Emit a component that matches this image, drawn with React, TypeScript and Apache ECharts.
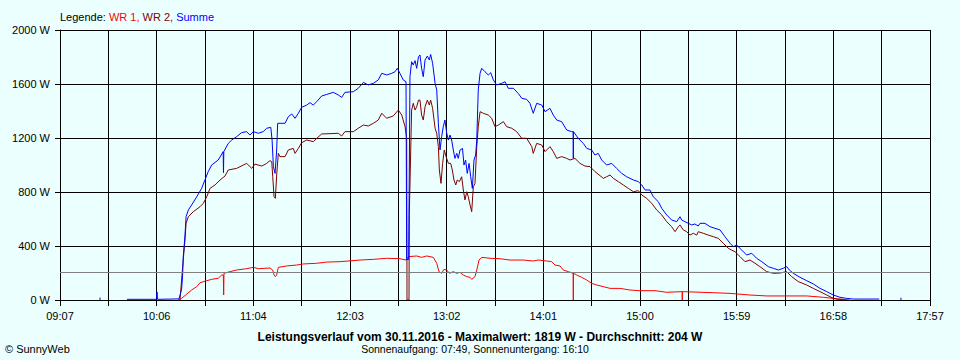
import React, { useEffect, useRef } from "react";
import * as echarts from "echarts";

// Time axis: minutes since midnight
const axisStart = 547; // 09:07
const axisEnd = 1077; // 17:57
const tickLabels = ["09:07", "10:06", "11:04", "12:03", "13:02", "14:01", "15:00", "15:59", "16:58", "17:57"];
const powerTicks = [0, 400, 800, 1200, 1600, 2000];
const averagePower = 204;

const titleText = "Leistungsverlauf vom 30.11.2016 - Maximalwert: 1819 W - Durchschnitt: 204 W";
const subtitleText = "Sonnenaufgang: 07:49, Sonnenuntergang: 16:10";

// [minute of day, W]
const wr1: (number | null)[][] = [
  [618.9, 0], [621.1, 12], [624.2, 44], [627.2, 74], [630.3, 99], [632.3, 128], [636.4, 143], [639.4, 153],
  [643.4, 161], [645.5, 185], [646.5, 185], [646.7, 37], [646.9, 198], [650.6, 210], [654.6, 222], [660.7, 232],
  [664.8, 242], [667.8, 232], [674.9, 237], [676.6, 222], [677.4, 185], [678.2, 173], [679, 185], [680, 242],
  [685.1, 252], [691.2, 259], [695.2, 267], [703.4, 272], [709.5, 281], [717.6, 284], [729.8, 296], [737.9, 301],
  [746, 309], [754.1, 306], [757.8, 296], [759.2, 321], [764.3, 326], [767.3, 316], [770.4, 326], [774.4, 316],
  [776.5, 272], [777.9, 210], [779.5, 198], [780.9, 227], [782.6, 222], [784.2, 198], [786.6, 210], [788.7, 198],
  [790.7, 205], [792.7, 185], [794.8, 173], [796.8, 168], [797.8, 153], [799.8, 173], [800.9, 222], [802.3, 296],
  [803.9, 316], [809, 309], [815, 306], [821.1, 296], [829.2, 296], [835.3, 289], [838.4, 296], [843.5, 289],
  [846.5, 284], [848.6, 259], [851.6, 252], [853.6, 222], [856.7, 210], [859.6, 198], [859.7, 0], [859.8, 198],
  [861.8, 185], [864.8, 168], [867.9, 148], [870.9, 123], [874, 111], [878, 99], [882.1, 86], [888.2, 86],
  [894.2, 74], [900.3, 69], [909.5, 69], [916.6, 57], [926, 62], [926.1, 0], [926.2, 62], [945, 54],
  [955.2, 49], [967.3, 37], [977.5, 30], [1001.9, 30], [1012, 20], [1018.1, 12], [1024.2, 5], [1028.3, 0],
];

const wr2: (number | null)[][] = [
  [620.1, 0], [622.1, 300], [623.1, 440], [623.8, 568], [625.2, 617], [628.2, 654], [632.3, 691], [634.3, 716],
  [636.4, 765], [638.4, 827], [641.4, 852], [644.5, 889], [647.5, 918], [649.5, 963], [654.6, 975], [660.7, 1012],
  [663.8, 975], [665.8, 1007], [669.9, 992], [672.9, 1012], [674.9, 1032], [676, 1025], [676.6, 913], [677.4, 765],
  [678.2, 753], [679, 926], [680, 1086], [681, 1062], [684.1, 1062], [686.1, 1111], [689.1, 1123], [690.2, 1086],
  [692.2, 1123], [694.2, 1165], [697.3, 1185], [701.3, 1173], [703.4, 1197], [706.4, 1230], [711.5, 1232], [716.5, 1235],
  [718.6, 1215], [720.6, 1247], [725.7, 1247], [728.7, 1272], [731.8, 1296], [734.8, 1289], [737.9, 1309], [740.9, 1333],
  [743, 1383], [746, 1346], [750, 1363], [753.1, 1407], [755.2, 1370], [757.2, 1284], [758.2, 1200], [758.4, 0],
  [759.6, 0], [759.8, 642], [761.2, 1407], [762.2, 1457], [763.3, 1407], [764.3, 1432], [765.4, 1481], [766.3, 1481],
  [767.3, 1370], [768.3, 1333], [769.4, 1432], [770.8, 1481], [772, 1444], [772.8, 1481], [774, 1420], [775.5, 1272],
  [776.5, 1235], [777.5, 1136], [778.1, 963], [779.1, 864], [780.1, 1012], [781.1, 1111], [782.2, 1062], [783.6, 1012],
  [785, 1012], [786, 963], [787, 889], [788.1, 852], [789, 889], [790.3, 877], [791.7, 913], [792.7, 815],
  [793.7, 741], [794.8, 802], [795.7, 765], [796.8, 704], [797.8, 654], [798.8, 839], [799.8, 864], [800.9, 1136],
  [801.8, 1284], [802.9, 1395], [804.9, 1383], [807.9, 1370], [810, 1346], [812, 1284], [814, 1296], [817.1, 1321],
  [819.1, 1284], [822.2, 1272], [825.2, 1247], [828.3, 1198], [831.3, 1198], [834.4, 1136], [835.3, 1086], [837.4, 1160],
  [840.5, 1148], [842.5, 1099], [845.5, 1136], [847.5, 1099], [849.6, 1049], [852.6, 1062], [855.7, 1049], [857.7, 1037],
  [860.7, 1049], [863.8, 1012], [866.8, 992], [869.9, 988], [872.9, 951], [878, 901], [880, 913], [882.1, 926],
  [884.1, 901], [887.1, 877], [890.2, 852], [893.2, 827], [896.3, 802], [899.3, 810], [901.4, 778], [904.4, 753],
  [907.5, 716], [910.5, 667], [913.6, 630], [916.6, 580], [919.6, 543], [921.7, 506], [923.7, 543], [924.7, 556],
  [926.7, 519], [928.8, 506], [930.8, 481], [932.8, 494], [934.9, 481], [935.8, 506], [938.9, 494], [941.9, 481],
  [945, 469], [948, 457], [951.1, 420], [954.1, 383], [956.1, 370], [958.2, 358], [961.3, 321], [964.3, 284],
  [967.3, 296], [970.4, 272], [973.4, 247], [977.5, 210], [981.5, 198], [985.6, 200], [989.7, 210], [992.7, 173],
  [996.8, 136], [1001.9, 111], [1005.9, 86], [1010, 62], [1014.1, 37], [1018.1, 12], [1021.1, 5], [1025.2, 0],
];

const summe: (number | null)[][] = [
  [571.4, 0], [571.4, 18], [580, null], [587.8, 5], [605.8, 5], [606.1, 60], [606.4, 5], [619.5, 8],
  [621.1, 80], [621.7, 185], [622.1, 321], [623.1, 469], [623.8, 617], [625.2, 667], [627.2, 704], [630.3, 765],
  [633.3, 827], [635.3, 889], [637.3, 951], [639.4, 1000], [643.4, 1037], [646.4, 1099], [646.6, 943], [646.8, 1099],
  [649.5, 1160], [651.6, 1185], [654.6, 1210], [657.7, 1240], [660.7, 1247], [662.7, 1222], [664.8, 1247], [667.8, 1235],
  [670.8, 1247], [672.9, 1272], [675.4, 1279], [676.2, 1185], [677, 988], [678, 938], [679, 1111], [679.6, 1309],
  [684.1, 1309], [686.1, 1358], [688.2, 1378], [690.2, 1346], [692.2, 1383], [694.2, 1427], [697.3, 1444], [699.3, 1462],
  [701.3, 1444], [703.4, 1469], [706.4, 1511], [709.5, 1523], [713.5, 1538], [716.5, 1519], [718.6, 1501], [720.6, 1538],
  [725.7, 1543], [728.7, 1568], [731.8, 1612], [734.8, 1593], [737.9, 1605], [740.9, 1630], [743, 1679], [746, 1667],
  [749.1, 1679], [751.1, 1691], [752.5, 1716], [754.1, 1679], [756.1, 1630], [757.8, 1617], [758.2, 300], [759.4, 300],
  [760.2, 1654], [761.2, 1765], [762.2, 1741], [763.3, 1773], [764.3, 1716], [765.4, 1802], [766.3, 1815], [767.3, 1716],
  [768.3, 1654], [769.4, 1778], [770.8, 1807], [772, 1778], [772.8, 1819], [774, 1753], [775.5, 1605], [776.5, 1556],
  [777.5, 1309], [778.5, 1111], [779.5, 1210], [780.5, 1284], [781.5, 1333], [782.6, 1235], [783.6, 1185], [784.6, 1222],
  [785.6, 1185], [786.6, 1111], [787.6, 1049], [788.7, 1086], [789.6, 1049], [790.7, 1111], [792.2, 1123], [793.1, 1000],
  [794.1, 1037], [795.1, 938], [796.2, 1012], [797.2, 913], [798.2, 827], [799.2, 1037], [800.2, 1074], [800.9, 1185],
  [801.8, 1556], [802.9, 1679], [803.9, 1716], [805.9, 1691], [807.9, 1667], [809.4, 1684], [811, 1630], [813, 1593],
  [816.1, 1605], [818.1, 1617], [820.1, 1568], [823.2, 1568], [826.2, 1530], [828.3, 1494], [831.3, 1486], [833.3, 1457],
  [835.3, 1383], [837.4, 1457], [840.5, 1444], [842.5, 1395], [845.5, 1420], [847.5, 1370], [849.6, 1333], [852.6, 1321],
  [855.7, 1259], [858.7, 1247], [859.6, 1247], [859.7, 1049], [859.8, 1247], [862.7, 1198], [865.8, 1160], [867.9, 1123],
  [870.9, 1111], [872.9, 1074], [874.9, 1086], [877, 1037], [880, 1000], [883.1, 1012], [886.1, 975], [889.2, 938],
  [892.2, 913], [896.3, 889], [899.3, 877], [901.4, 852], [903.4, 815], [906.4, 815], [908.4, 765], [911.5, 728],
  [913.6, 679], [916.6, 630], [919.6, 593], [922.7, 580], [924.7, 617], [925.7, 593], [927.7, 580], [929.8, 568],
  [931.8, 556], [933.8, 563], [935.8, 548], [936.9, 568], [939.9, 568], [943, 543], [946, 531], [949.1, 519],
  [952.1, 469], [955.2, 420], [957.2, 395], [959.2, 407], [962.3, 370], [965.3, 333], [968.4, 346], [971.4, 309],
  [974.5, 284], [978.5, 247], [981.5, 235], [984.6, 222], [987.6, 235], [989.7, 247], [991.3, 222], [993.7, 198],
  [997.8, 168], [1001.9, 143], [1005.9, 119], [1010, 86], [1014.1, 62], [1018.1, 37], [1022.2, 20], [1026.3, 12],
  [1030.3, 7], [1046.1, 7], [1050, null], [1059.3, 0], [1059.3, 17],
];

const FONT = "'Liberation Sans', Arial, sans-serif";

export default function App() {
  const ref = useRef<HTMLDivElement>(null);

  useEffect(() => {
    if (!ref.current) return;
    const chart = echarts.init(ref.current, null, { renderer: "svg" });
    const span = axisEnd - axisStart;
    const step = span / (2 * (tickLabels.length - 1));
    const shift = (d: (number | null)[][]) => d.map(([t, w]) => [(t as number) - axisStart, w]);

    const lineSeries = (name: string, data: (number | null)[][], color: string, extra: any = {}) => ({
      name,
      type: "line",
      data: shift(data),
      showSymbol: false,
      symbol: "none",
      connectNulls: false,
      lineStyle: { color, width: 1 },
      itemStyle: { color },
      emphasis: { disabled: true },
      silent: true,
      ...extra,
    });

    chart.setOption({
      animation: false,
      backgroundColor: "#EBFFFF",
      textStyle: { fontFamily: FONT, fontSize: 11, color: "#000" },
      grid: { left: 60, right: 30, top: 30, bottom: 60, containLabel: false },
      xAxis: {
        type: "value",
        min: 0,
        max: span,
        interval: step,
        axisLine: { show: true, lineStyle: { color: "#000", width: 1 } },
        axisTick: { show: true, length: 6, lineStyle: { color: "#000", width: 1 } },
        axisLabel: {
          margin: 10,
          color: "#000",
          fontSize: 11,
          fontFamily: FONT,
          showMinLabel: true,
          showMaxLabel: true,
          formatter: (v: number) => {
            const i = Math.round(v / step);
            return i % 2 === 0 ? tickLabels[i / 2] ?? "" : "";
          },
        },
        splitLine: { show: true, lineStyle: { color: "#000", width: 1 } },
      },
      yAxis: {
        type: "value",
        min: powerTicks[0],
        max: powerTicks[powerTicks.length - 1],
        interval: powerTicks[1] - powerTicks[0],
        axisLine: { show: true, lineStyle: { color: "#000", width: 1 } },
        axisTick: { show: true, length: 5, lineStyle: { color: "#000", width: 1 } },
        axisLabel: {
          margin: 10,
          color: "#000",
          fontSize: 11,
          fontFamily: FONT,
          formatter: (v: number) => `${v} W`,
        },
        splitLine: { show: true, lineStyle: { color: "#000", width: 1 } },
      },
      series: [
        lineSeries("WR 1", wr1, "#FF0000", {
          markLine: {
            silent: true,
            symbol: ["none", "none"],
            label: { show: false },
            lineStyle: { color: "#808080", type: "solid", width: 1 },
            data: [{ yAxis: averagePower }],
          },
        }),
        lineSeries("WR 2", wr2, "#800000"),
        lineSeries("Summe", summe, "#0000FF"),
      ],
      graphic: [
        {
          type: "text",
          x: 60,
          y: 17,
          style: {
            text: "{k|Legende: }{a|WR 1, }{b|WR 2, }{c|Summe}",
            verticalAlign: "middle",
            font: `11px ${FONT}`,
            rich: {
              k: { fill: "#000", font: `11px ${FONT}` },
              a: { fill: "#FF0000", font: `11px ${FONT}` },
              b: { fill: "#800000", font: `11px ${FONT}` },
              c: { fill: "#0000FF", font: `11px ${FONT}` },
            },
          },
        },
        {
          type: "text",
          x: 480,
          y: 337,
          style: { text: titleText, align: "center", verticalAlign: "middle", fill: "#000", font: `bold 12px ${FONT}` },
        },
        {
          type: "text",
          x: 475,
          y: 349,
          style: { text: subtitleText, align: "center", verticalAlign: "middle", fill: "#000", font: `10.5px ${FONT}` },
        },
        {
          type: "text",
          x: 5,
          y: 349,
          style: { text: "© SunnyWeb", align: "left", verticalAlign: "middle", fill: "#000", font: `11px ${FONT}` },
        },
      ],
    });
    return () => chart.dispose();
  }, []);

  return <div ref={ref} style={{ position: "fixed", left: 0, top: 0, width: 960, height: 360 }} />;
}
